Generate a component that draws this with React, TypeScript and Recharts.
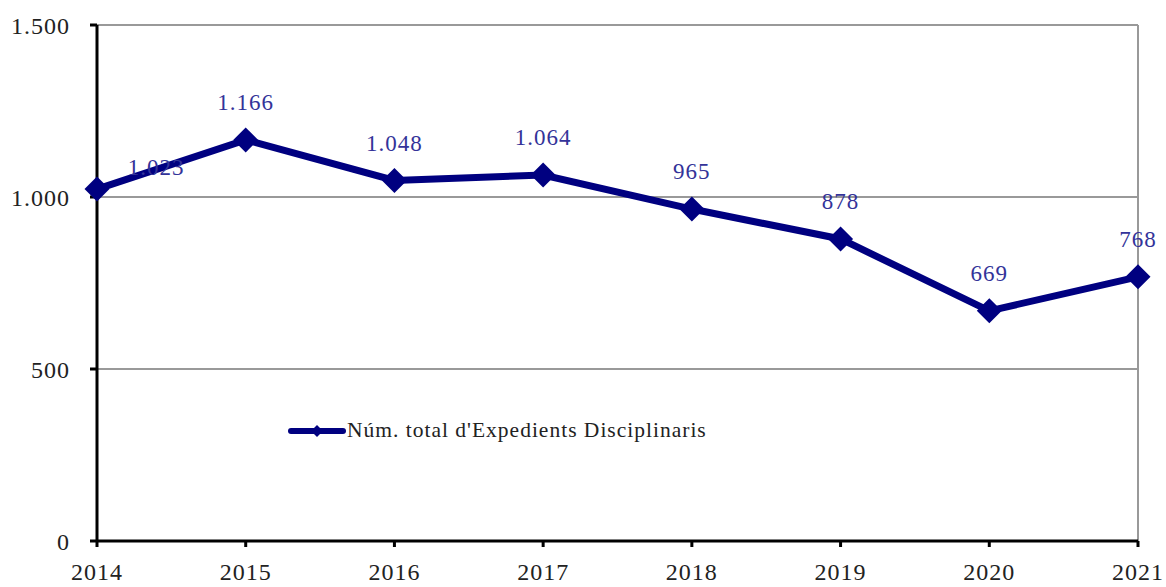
import React from 'react';
import { LineChart, Line, XAxis, YAxis, CartesianGrid, LabelList, ReferenceLine } from 'recharts';

const years = ['2014', '2015', '2016', '2017', '2018', '2019', '2020', '2021'];
const expedients = [1023, 1166, 1048, 1064, 965, 878, 669, 768];
const yTicks = [0, 500, 1000, 1500];

const seriesName = "Núm. total d'Expedients Disciplinaris";
const NAVY = '#000080';
const FONT = '"Liberation Serif", "DejaVu Serif", serif';

const data = years.map((year, i) => ({ year, value: expedients[i] }));

const fmt = (v: number) => v.toString().replace(/\B(?=(\d{3})+(?!\d))/g, '.');

const Diamond = (props: any) => {
  const { cx, cy } = props;
  if (cx == null || cy == null) return null;
  const r = 12.5;
  return <path d={`M${cx},${cy - r} L${cx + r},${cy} L${cx},${cy + r} L${cx - r},${cy} Z`} fill={NAVY} />;
};

const ValueLabel = (props: any) => {
  const { x, y, value, index } = props;
  // Excel shifted the first label to the right
  const dx = index === 0 ? 59 : 0;
  const dy = index === 0 ? -19 : -35;
  return (
    <text x={x + dx} y={y + dy} textAnchor="middle" dominantBaseline="middle"
      fill="#333399" fontSize={23} letterSpacing={1} fontFamily={FONT}>
      {fmt(value)}
    </text>
  );
};

const LegendBox = () => (
  <div style={{ position: 'absolute', left: 288, top: 418, display: 'flex', alignItems: 'center',
    fontFamily: FONT, fontSize: 21.5, letterSpacing: 1, color: '#222', whiteSpace: 'nowrap' }}>
    <svg width={58} height={14}>
      <line x1={3} y1={7} x2={55} y2={7} stroke={NAVY} strokeWidth={6} strokeLinecap="round" />
      <path d="M29,1 L35,7 L29,13 L23,7 Z" fill={NAVY} />
    </svg>
    <span style={{ marginLeft: 1 }}>{seriesName}</span>
  </div>
);

export default function App() {
  return (
    <div style={{ position: 'absolute', left: 0, top: 0, width: 1166, height: 587, background: '#fff' }}>
      <LineChart width={1166} height={587} data={data} margin={{ top: 25, right: 28, left: 0, bottom: 16 }}>
        <CartesianGrid vertical={false} stroke="#999" strokeWidth={2} />
        <ReferenceLine x="2021" stroke="#999" strokeWidth={2} />
        <XAxis dataKey="year" height={30} stroke="#000" strokeWidth={3} tickSize={6} tickMargin={16}
          tick={{ fill: '#222', fontSize: 24, fontFamily: FONT, letterSpacing: 1 }} />
        <YAxis domain={[0, 1500]} ticks={yTicks} width={97} stroke="#000" strokeWidth={3}
          tickSize={7} tickMargin={20} tickFormatter={fmt}
          tick={{ fill: '#222', fontSize: 24, fontFamily: FONT, letterSpacing: 1 }} />
        <Line dataKey="value" name={seriesName} stroke={NAVY} strokeWidth={7} dot={<Diamond />}
          activeDot={false} isAnimationActive={false}>
          <LabelList dataKey="value" content={<ValueLabel />} />
        </Line>
      </LineChart>
      <LegendBox />
    </div>
  );
}
